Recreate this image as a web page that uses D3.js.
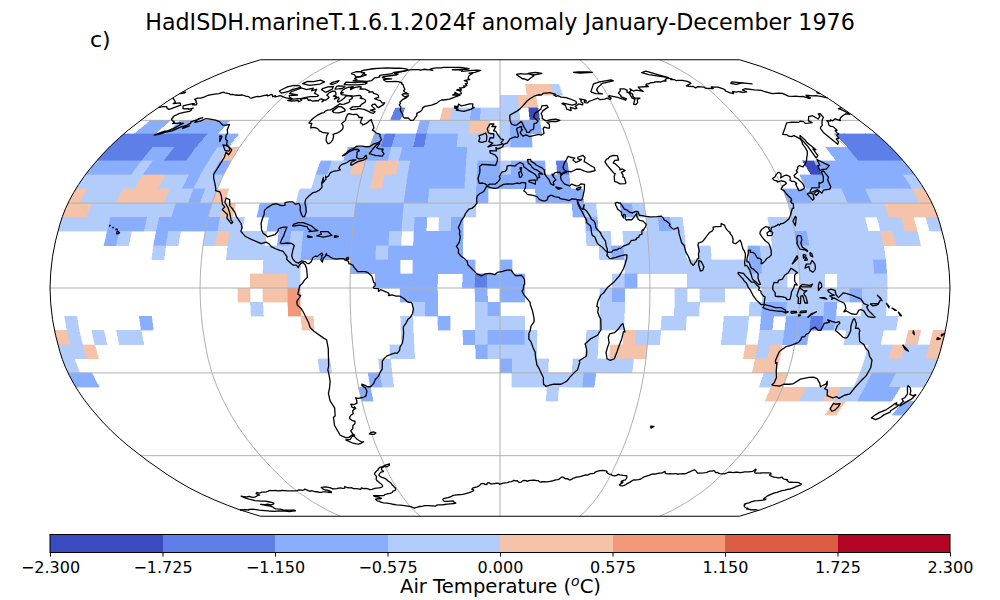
<!DOCTYPE html>
<html><head><meta charset="utf-8">
<script src="https://cdn.jsdelivr.net/npm/d3@7"></script>
<style>html,body{margin:0;padding:0;background:#fff}svg{display:block}text{font-family:"DejaVu Sans",sans-serif;fill:#000}</style>
</head><body><svg id="c" width="1000" height="600"></svg>
<script>
// ---------- labels ----------
const titleText = "HadISDH.marineT.1.6.1.2024f anomaly January-December 1976";
const panelLabel = "c)";
// ---------- colour bins ----------
const binEdges = [-2.3,-1.725,-1.15,-0.575,0,0.575,1.15,1.725,2.3];
const binColors = ["#3b4cc0","#5f7fe8","#8aaefe","#b2cdfb","#f5c2aa","#f4987a","#dc5d42","#b40426"];
// estimated bin values for the cells
const A=-2.0,B=-1.4,C=-0.85,D=-0.3,E=0.3,F=0.85;
// ---------- grid cells: south edge of each 5 degree band, and its runs [lonW, lonE, anomaly] ----------
const bandSouth = [70,65,60,55,50,45,40,35,30,25,20,15,10,5,0,-5,-10,-15,-20,-25,-30,-35,-40,-45];
const bandRuns = [
[[15,30,E],[30,35,D]],
[[0,10,D],[10,20,E]],
[[-55,-50,B],[-30,-25,E],[-25,-15,D],[-15,-10,C],[-10,10,D],[15,20,A]],
[[-175,-165,C],[-160,-135,C],[-40,-35,C],[-35,-15,D],[-15,-5,E],[0,5,D],[5,20,C]],
[[-180,-140,B],[-140,-125,C],[-60,-55,C],[-55,-50,B],[-50,-40,C],[-40,-35,B],[-35,-20,C],[-20,5,D],[5,15,C],[160,180,B]],
[[-180,-160,B],[-160,-150,C],[-150,-140,B],[-140,-130,C],[-130,-125,D],[-125,-120,E],[-70,-50,C],[-50,-45,D],[-45,-15,C],[-15,0,D],[150,160,C],[160,180,B]],
[[-180,-160,C],[-160,-155,D],[-155,-130,C],[-130,-125,D],[-125,-120,C],[-80,-75,C],[-75,-65,D],[-65,-60,E],[-60,-55,D],[-55,-45,E],[-45,-40,D],[-40,-15,C],[-15,-10,D],[-10,0,C],[0,5,D],[5,20,C],[25,30,B],[135,140,A],[140,180,C]],
[[-180,-155,D],[-155,-145,E],[-145,-135,D],[-135,-130,C],[-130,-120,D],[-80,-55,D],[-55,-50,E],[-50,-40,D],[-40,-15,C],[-15,-10,D],[-10,30,C],[130,175,C],[175,180,D]],
[[-180,-175,E],[-175,-160,D],[-160,-140,E],[-140,-130,D],[-130,-125,C],[-125,-120,D],[-120,-115,E],[-85,-40,D],[-40,-30,C],[-30,-10,D],[-10,-5,C],[15,35,C],[120,130,C],[130,145,D],[145,155,C],[155,175,D],[175,180,E]],
[[-180,-170,E],[-170,-135,D],[-135,-120,C],[-120,-115,D],[-115,-110,E],[-100,-80,C],[-80,-60,D],[-60,-40,C],[-40,-10,D],[30,35,C],[35,40,D],[50,55,C],[55,60,D],[120,160,D],[160,180,E]],
[[-180,-160,D],[-160,-145,C],[-145,-140,D],[-140,-115,C],[-115,-105,D],[-95,-40,C],[-40,-35,D],[-35,-30,C],[-25,-20,D],[-20,-15,C],[35,40,C],[60,65,D],[65,70,C],[70,75,D],[110,150,D],[155,165,D],[165,170,E],[175,180,D]],
[[-160,-155,C],[-155,-150,D],[-140,-135,C],[-135,-130,D],[-120,-115,D],[-115,-110,E],[-110,-95,D],[-90,-85,C],[-85,-80,D],[-80,-45,C],[-45,-40,D],[-35,-15,C],[35,45,D],[50,75,D],[110,120,D],[120,125,C],[125,155,D],[155,160,E],[160,170,D]],
[[-140,-135,D],[-110,-80,D],[-80,-50,C],[-50,-45,D],[-45,-15,C],[40,45,D],[45,50,C],[50,75,D],[80,85,D],[100,105,C],[105,155,D]],
[[-95,-80,D],[-60,-40,C],[-35,-10,C],[0,5,C],[50,100,D],[100,105,C],[105,150,D],[150,155,C]],
[[-100,-85,E],[-85,-80,D],[-50,-25,C],[-15,-10,C],[-10,-5,B],[-5,10,C],[45,50,D],[50,55,C],[75,115,D],[120,130,D],[135,155,D]],
[[-105,-100,E],[-95,-85,E],[-85,-80,F],[-40,-25,C],[-10,-5,C],[0,10,C],[40,45,D],[45,50,C],[70,75,D],[80,90,D],[105,140,D],[140,145,C],[145,155,D]],
[[-100,-95,D],[-85,-80,F],[-35,-30,D],[-30,-25,C],[-10,-5,D],[-5,0,C],[40,50,D],[70,80,D],[100,105,D],[105,115,C],[115,130,D],[130,135,C],[145,155,D]],
[[-175,-170,D],[-145,-140,C],[-80,-75,E],[-40,-35,D],[-25,-20,C],[-10,10,D],[40,50,D],[65,75,D],[90,100,D],[105,110,C],[115,125,C],[125,130,B],[130,135,C],[135,160,D]],
[[-180,-175,E],[-175,-170,D],[-165,-160,D],[-155,-145,D],[-40,-35,D],[-15,-10,C],[-10,-5,D],[-5,10,C],[10,15,D],[35,40,D],[50,55,E],[55,65,D],[90,100,D],[105,115,D],[115,125,C],[140,155,D],[165,170,E],[175,180,E]],
[[-180,-170,D],[-170,-165,E],[-45,-35,D],[-10,-5,C],[-5,15,D],[35,40,D],[45,60,E],[100,105,E],[105,110,D],[110,115,E],[150,160,D],[160,165,E],[165,175,D],[175,180,E]],
[[-180,-175,D],[-75,-70,D],[-50,-45,D],[0,5,C],[5,20,D],[30,55,D],[105,115,E],[150,180,D]],
[[-180,-170,C],[-55,-50,C],[-50,-45,D],[5,35,D],[35,40,C],[110,115,D],[115,120,E],[150,155,D],[155,165,C],[165,180,D]],
[[-60,-55,C],[20,25,D],[115,130,E],[130,140,D],[140,145,E],[145,155,D],[155,170,C]],
[[145,150,E],[175,180,C]]
];
// ---------- coastlines [lon,lat] ----------
const americas = [[-156.6,71.4],[-155.1,71.1],[-152.3,70.8],[-150.7,70.4],[-149.7,70.5],[-147.6,70.2],[-145.7,70.1],[-143.6,70.2],[-141,69.7],[-139.1,69.5],[-137.5,69],[-136.5,68.9],[-135.6,69.3],[-134.4,69.6],[-132.9,69.5],[-131.4,69.9],[-129.8,70.2],[-129.1,69.8],[-128.4,70],[-128.1,70.5],[-127.4,70.4],[-125.8,69.5],[-125,70],[-124.4,69.4],[-123.1,69.6],[-122.7,69.9],[-121.5,69.8],[-119.9,69.4],[-117.6,69],[-116.2,68.8],[-115.2,68.9],[-113.9,68.4],[-115.3,67.9],[-113.5,67.7],[-110.8,67.8],[-109.9,68],[-108.9,67.4],[-107.8,67.9],[-108.8,68.3],[-108.2,68.7],[-106.9,68.7],[-106.2,69],[-105.3,68.6],[-104.3,68],[-103.2,68.1],[-101.5,67.6],[-99.9,67.8],[-98.4,67.8],[-98.6,68.4],[-97.7,68.6],[-96.1,68.2],[-96.1,67.3],[-95.5,68.1],[-94.7,68.1],[-94.2,69.1],[-95.3,69.7],[-96.5,70.1],[-96.4,71.2],[-95.2,71.9],[-93.9,71.8],[-92.9,71.3],[-91.5,70.2],[-92.4,69.7],[-90.5,69.5],[-90.6,68.5],[-89.2,69.3],[-88,68.6],[-88.3,67.9],[-87.4,67.2],[-86.3,67.9],[-85.6,68.8],[-85.5,69.9],[-84.1,69.8],[-82.6,69.7],[-81.3,69.2],[-81.2,68.7],[-82,68.1],[-81.3,67.6],[-81.4,67.1],[-83.3,66.4],[-84.7,66.3],[-85.8,66.6],[-86.1,66.1],[-87,65.2],[-87.3,64.8],[-88.5,64.1],[-89.9,64],[-90.7,63.6],[-90.8,63],[-91.9,62.8],[-93.2,62],[-94.2,60.9],[-94.6,60.1],[-94.7,58.9],[-93.2,58.8],[-92.8,57.8],[-92.3,57.1],[-90.9,57.3],[-89,56.9],[-88,56.5],[-87.3,56],[-86.1,55.7],[-85,55.3],[-83.4,55.2],[-82.3,55.1],[-82.4,54.3],[-82.1,53.3],[-81.4,52.2],[-79.9,51.2],[-79.1,51.5],[-78.6,52.6],[-79.1,54.1],[-79.8,54.7],[-78.2,55.1],[-77.1,55.8],[-76.5,56.5],[-76.6,57.2],[-77.3,58.1],[-78.5,58.8],[-77.3,59.9],[-77.8,60.8],[-78.1,62.3],[-77.4,62.6],[-75.7,62.3],[-74.7,62.2],[-73.8,62.4],[-72.9,62.1],[-71.7,61.5],[-71.4,61.1],[-69.6,61.1],[-69.6,60.2],[-69.3,59],[-68.4,58.8],[-67.6,58.2],[-66.2,58.8],[-65.2,59.9],[-64.6,60.3],[-63.8,59.4],[-62.5,58.2],[-61.4,57],[-61.8,56.3],[-60.5,55.8],[-59.6,55.2],[-58,54.9],[-57.3,54.6],[-56.9,53.8],[-56.2,53.3],[-55.8,52.6],[-56.4,51.8],[-58.8,51.1],[-60,50.2],[-61.7,50.1],[-63.9,50.3],[-65.4,50.3],[-66.4,50.2],[-67.2,49.5],[-68.5,49.1],[-69.95,47.7],[-71.1,46.8],[-70.3,47],[-68.7,48.3],[-66.6,49.1],[-65.1,49.2],[-64.2,48.7],[-65.1,48.1],[-64.8,47.6],[-64.5,46.2],[-63.2,45.7],[-61.5,45.9],[-60.5,47],[-59.8,46],[-61,45.3],[-63.3,44.7],[-64.2,44.3],[-65.4,43.5],[-66.1,43.6],[-66.2,44.5],[-64.4,45.3],[-66,45.3],[-67.1,45.1],[-68,44.4],[-69.1,44],[-70.1,43.7],[-70.7,43.1],[-70.8,42.3],[-70,41.8],[-71.1,41.5],[-72.9,41.2],[-74,40.7],[-74.2,39.7],[-75.2,38.9],[-75.5,39.5],[-75,38.5],[-75.9,37.2],[-76.3,39.1],[-76.3,37],[-75.7,35.6],[-76.5,34.6],[-77.6,34],[-78.9,33.7],[-80.3,32.5],[-81.3,31.4],[-81.3,30],[-80.5,28.5],[-80,26.9],[-80.4,25.2],[-81.2,25.2],[-81.7,25.9],[-82.7,27.5],[-82.8,28.6],[-83.7,29.9],[-85.1,29.6],[-86.4,30.4],[-88,30.4],[-89.6,30.2],[-89.4,29.2],[-90.9,29.1],[-93.2,29.8],[-94.7,29.5],[-96.6,28.3],[-97.4,27.4],[-97.2,25.9],[-97.5,24.9],[-97.8,22.9],[-97.2,20.6],[-96.3,19.3],[-95,18.6],[-94.4,18.1],[-92.8,18.5],[-91.4,18.9],[-90.5,19.9],[-90.3,21],[-88.5,21.5],[-87,21.5],[-87.6,19.6],[-87.9,18.3],[-88.3,17.6],[-88.9,15.9],[-88.2,15.7],[-86,15.9],[-84.4,15.8],[-83.1,15],[-83.5,13.6],[-83.8,11.4],[-83.4,10.4],[-82.2,9.2],[-81,8.8],[-79.6,9.6],[-78,9.2],[-77.4,8.7],[-76.8,8.6],[-75.7,9.4],[-75.3,10.7],[-74.2,11.3],[-73.4,11.2],[-71.8,12.4],[-71.3,11.8],[-71.9,11.4],[-71.6,10.9],[-72,9.9],[-71.3,9.1],[-71.1,10.3],[-70.2,11.4],[-69.9,12.2],[-69.6,11.5],[-68.9,11.4],[-68.2,10.9],[-67.3,10.5],[-65.7,10.2],[-64.3,10.4],[-62.7,10.4],[-62.4,9.9],[-60.8,9.4],[-60.7,8.6],[-59.8,8.4],[-59,8],[-58.5,7.3],[-57.5,6.3],[-57.1,5.8],[-55.9,5.8],[-54,5.8],[-52.9,5.4],[-51.8,4.6],[-51.3,4.2],[-50.5,1.9],[-50,1.7],[-50,0.8],[-50.7,0.2],[-50.4,-0.1],[-48.6,-0.2],[-48.6,-1.2],[-47.8,-0.6],[-46.6,-1],[-44.9,-1.6],[-44.4,-2.1],[-44.6,-2.7],[-43.4,-2.4],[-41.5,-2.9],[-40,-2.9],[-38.5,-3.7],[-37.2,-4.8],[-36.5,-5.1],[-35.6,-5.1],[-35.2,-5.5],[-34.9,-6.7],[-34.7,-7.3],[-35.1,-9],[-36,-10.3],[-37,-11],[-37.7,-12.2],[-38.4,-13],[-39,-13.8],[-39,-16],[-39.3,-17.9],[-39.8,-19.6],[-40.8,-20.9],[-41,-22],[-42,-23],[-43.1,-23],[-44.6,-23.4],[-46.5,-24.1],[-47.6,-24.9],[-48.5,-25.9],[-48.7,-27.5],[-48.9,-28.7],[-50,-29.9],[-50.7,-31],[-51.6,-31.8],[-52.3,-32.2],[-53.4,-33.8],[-54.9,-34.9],[-56.2,-34.9],[-57.1,-34.4],[-58.4,-34],[-58.5,-34.4],[-57.2,-35.3],[-56.8,-36.4],[-57.7,-38.2],[-59.2,-38.7],[-61.2,-39],[-62.3,-38.8],[-62.1,-39.8],[-62.3,-40.7],[-63.8,-41.2],[-65.1,-41.1],[-65,-42.1],[-64.3,-42.4],[-63.8,-42],[-63.5,-42.6],[-64.4,-42.9],[-65.2,-43.5],[-65.3,-44.5],[-66.5,-45],[-67.3,-45.6],[-67.6,-46.3],[-66.6,-47],[-65.6,-47.2],[-66,-48.1],[-67.2,-48.7],[-67.8,-49.9],[-69.1,-50.7],[-68.8,-51.8],[-68.1,-52.3],[-69.5,-52.3],[-71,-53],[-72.6,-53.3],[-74.9,-52.3],[-75.6,-48.7],[-74.7,-45.8],[-73.7,-45.3],[-72.7,-42.4],[-73.7,-39.9],[-73.5,-37.2],[-72.5,-35.5],[-71.5,-33],[-71.4,-30.1],[-71.5,-28.9],[-70.9,-27.6],[-70.1,-21.4],[-70.4,-18.3],[-71.4,-17.8],[-75.2,-15.3],[-76.6,-14],[-77.1,-12.2],[-79,-8.4],[-79.8,-7.2],[-81.2,-6.1],[-81.4,-4.7],[-80.3,-3.4],[-79.8,-2.7],[-80.9,-2.2],[-80.1,0.8],[-79,1.7],[-78.4,2.6],[-77.1,3.8],[-77.5,6.7],[-78.2,8.3],[-78.4,8.4],[-79.1,9],[-79.6,8.9],[-80.5,8.1],[-80.9,7.2],[-81.7,8.1],[-82.9,8.1],[-83.5,8.4],[-85.7,10.1],[-85.7,11.1],[-87.5,13],[-88.5,13.2],[-90.1,13.7],[-92.2,14.5],[-93.4,15.6],[-94.7,16.2],[-96.6,15.7],[-100.8,17.2],[-103.5,18.3],[-105.5,20],[-105.3,21.4],[-106,22.8],[-108.4,25.2],[-109.4,26.7],[-110.7,27.9],[-112.2,29],[-113.1,31.2],[-114.8,31.8],[-114.7,30.2],[-112.8,28.4],[-111.6,26.7],[-110.3,24],[-109.4,23.2],[-110,22.8],[-112.2,24.7],[-112.3,26],[-115,27.7],[-114.2,28.6],[-115.5,29.6],[-117.1,32.5],[-118.4,34],[-120.4,34.4],[-120.7,35.2],[-122.5,37.6],[-123.7,39],[-124.4,40.3],[-124.1,43],[-124,46.3],[-124.7,48.2],[-122.8,47.2],[-122.6,48],[-122.8,49],[-124.9,50],[-127,51],[-127.8,52.3],[-129.1,52.8],[-130.5,54.3],[-130.5,55],[-132.2,56.4],[-133.5,58.4],[-135,58.2],[-136.6,58.2],[-139.9,59.5],[-142.6,60.1],[-145.9,60.5],[-148.2,60.7],[-149.7,59.7],[-151.7,59.2],[-151.9,60.7],[-150.3,61],[-152.6,60],[-154,59.4],[-153.3,58.9],[-154.2,58.1],[-156.3,57.4],[-158.4,56],[-160.3,55.6],[-163.1,54.7],[-164.8,54.4],[-163,55.3],[-161.8,55.9],[-160.6,56],[-158.7,57],[-157.7,58.1],[-157,58.9],[-158.2,58.6],[-158.5,59],[-159.7,58.9],[-162,58.7],[-162,59.3],[-164,59.9],[-165.3,60.5],[-165.4,61.1],[-166.1,61.5],[-164.9,62.6],[-163.2,63.1],[-161,63.5],[-160.8,64],[-161.5,64.4],[-161.2,64.8],[-162.8,64.3],[-163.5,64.6],[-165.5,64.5],[-166.4,64.7],[-168.1,65.7],[-166.7,66.1],[-164.5,66.6],[-163.7,66.6],[-163.8,66.1],[-161.7,66.1],[-162.5,66.7],[-163.7,67.1],[-164.4,67.6],[-166.8,68.4],[-166.2,68.9],[-164.4,68.9],[-163.2,69.4],[-162.9,69.9],[-161.9,70.3],[-160,70.6],[-158,70.8],[-156.6,71.4]];
const greenland = [[-46.8,82.6],[-43.4,83.2],[-39.9,83.2],[-38.6,83.5],[-35.1,83.6],[-27.1,83.5],[-20.8,82.7],[-22.7,82.3],[-26.5,82.3],[-31.9,82.2],[-31.4,82],[-27.9,82.1],[-25,81.8],[-25.2,81.2],[-20,81.6],[-15.8,81.9],[-12.8,81.7],[-16.3,80.6],[-20,80.2],[-17.7,80.1],[-18.9,79.4],[-19.7,78.8],[-19.7,77.6],[-18.5,77],[-20,76.9],[-21.7,76.6],[-19.8,76.1],[-19.6,75.2],[-20.7,75.2],[-19.4,74.3],[-21.6,74.2],[-20.4,73.8],[-20.8,73.5],[-22.2,73.3],[-23.6,73.3],[-22.3,72.6],[-22.3,72.2],[-24.3,72.6],[-24.8,72.3],[-23.4,72.1],[-22.1,71.5],[-21.8,70.7],[-23.5,70.5],[-25.5,71.4],[-25.2,70.8],[-26.4,70.2],[-23.7,70.2],[-22.3,70.1],[-25,69.3],[-27.7,68.5],[-30.7,68.1],[-31.8,68.1],[-32.8,67.7],[-34.2,66.7],[-36.4,66],[-39.8,65.5],[-40.7,64.8],[-40.7,64.1],[-41.2,63.5],[-42.8,62.7],[-42.4,61.9],[-43.4,60.1],[-44.8,60],[-46.3,60.9],[-48.3,60.9],[-49.2,61.4],[-49.9,62.4],[-51.6,63.6],[-52.1,64.3],[-52.3,65.2],[-53.7,66.1],[-53.3,66.8],[-54,67.2],[-53,68.4],[-51.5,69.1],[-50.9,69.9],[-52.6,69.4],[-54.7,70.3],[-54.4,70.8],[-51.4,70.6],[-53.1,71.2],[-54,71.5],[-55,72],[-54.7,72.6],[-55.3,73.1],[-56.1,73.6],[-57.3,74.7],[-58.6,75.1],[-58.6,75.5],[-61.3,76.1],[-63.4,76.2],[-66,76.1],[-68.5,76.1],[-69.7,76.4],[-71.4,77],[-68.8,77.3],[-66.8,77.4],[-71,77.6],[-73.3,78],[-73.2,78.4],[-69.4,78.9],[-65.7,79.4],[-65.3,79.8],[-68,80.1],[-67.2,80.5],[-63.7,81.2],[-60.3,82],[-57.2,82.2],[-54.1,82.2],[-53,81.9],[-50.4,82.4],[-48,82.1],[-46.6,82],[-44.5,81.7],[-46.9,82.2],[-46.8,82.6]];
const arcticCanada = [
[[-79.8,72.8],[-77.8,72.75],[-75.6,72.2],[-74.2,71.8],[-74.1,71.3],[-72.2,71.6],[-71.2,70.9],[-68.8,70.5],[-67.9,70.1],[-66.9,69.2],[-68.8,68.7],[-66.4,68.1],[-64.9,67.8],[-63.4,66.9],[-61.9,66.9],[-62.2,66.2],[-63.9,65],[-65.1,65.4],[-66.7,66.4],[-68,66.3],[-68.1,65.7],[-65.3,64.4],[-67.5,64],[-64.7,63.4],[-65,62.7],[-66.3,62.9],[-68.8,63.7],[-71,64.3],[-74.8,64.7],[-74.8,64.4],[-77.7,64.2],[-78.6,64.6],[-77.9,65.3],[-73.9,65.5],[-74.3,65.8],[-73.9,66.3],[-72.7,67.3],[-72.9,67.7],[-73.3,68.1],[-74.8,68.6],[-76.9,68.9],[-76.2,69.1],[-77.3,69.8],[-78.2,70],[-79.5,69.9],[-81.3,69.7],[-84.9,70],[-88.7,70.4],[-89.5,70.8],[-88.5,71.2],[-89.9,71.2],[-90.2,72.2],[-89.4,73.1],[-88.4,73.5],[-85.8,73.8],[-86.6,73.2],[-85.8,72.5],[-84.9,73.3],[-82.3,73.8],[-81,73.7],[-80.6,72.7],[-79.8,72.8]],
[[-105.4,72.7],[-104.5,71],[-102.8,70.5],[-101,70],[-101.1,69.6],[-102.7,69.5],[-105,69.5],[-106.9,69.2],[-109,68.8],[-113.3,68.5],[-116,69.2],[-117.3,70],[-113,70.2],[-118.4,70.9],[-118.4,71.6],[-115.2,73.3],[-114.2,73.1],[-111,72.5],[-108.2,73.2],[-107.5,72],[-105.4,72.7]],
[[-125.9,71.9],[-124.8,73],[-124,73.7],[-121.5,74.4],[-117.6,74.2],[-116,73.5],[-119.2,72.5],[-120.5,71.6],[-123.1,71],[-125.9,71.9]],
[[-89.5,76.5],[-86,76.4],[-80.6,76.2],[-78.1,76.6],[-77.9,77.9],[-76,78.1],[-75.4,78.5],[-76.3,79],[-75.5,79.2],[-70,79.8],[-69,80.6],[-65.7,81],[-61.9,81.6],[-61.9,82.4],[-64.3,82.8],[-68,83.1],[-71.4,83],[-77,83.2],[-82.4,82.9],[-85.5,82.7],[-91.4,81.6],[-90,80.5],[-87.8,80.3],[-87,79.7],[-85.1,79.3],[-87,78.5],[-88,78.4],[-89.8,78.2],[-90,77.6],[-88,77.2],[-89.5,76.5]],
[[-80.3,75],[-84,74.6],[-90,74.6],[-92.4,74.9],[-92.8,75.9],[-89.8,75.8],[-87,75.7],[-83.2,76],[-79.5,75.5],[-80.3,75]],
[[-90.5,73.9],[-92.4,74.1],[-94.9,74.2],[-95.6,73.9],[-95,72.7],[-93.2,72.8],[-91.2,73],[-90.5,73.9]],
[[-98.5,71.3],[-102.5,72.5],[-102.5,73],[-100.4,73.7],[-97.5,73.9],[-96.6,72.7],[-98.5,71.3]],
[[-116.3,76.2],[-117.7,75.2],[-112.2,74.4],[-106.9,75],[-105.9,76],[-109.6,76.8],[-112.6,76.1],[-116.3,76.2]],
[[-96,80],[-94.3,81],[-91.7,81.1],[-87.7,80.4],[-87.5,78.5],[-90,78.2],[-93,79.5],[-96,80]],
[[-98.9,74.9],[-100.9,75],[-100.9,75.6],[-98,76.6],[-97.7,75.7],[-98.9,74.9]],
[[-80.3,63.7],[-83,62.9],[-85.5,63],[-87,63.6],[-85.5,65.4],[-84,65.4],[-81.5,64.5],[-80.3,63.7]],
[[-56.1,50.7],[-56.8,49.8],[-55.4,49.3],[-53.5,49.2],[-53.8,48.5],[-52.6,47.5],[-53.1,46.7],[-54.2,46.8],[-55.3,46.9],[-56,46.9],[-59.3,47.6],[-58.4,49.1],[-57.4,50.7],[-56.1,51.6],[-56.1,50.7]],
[[-123.5,48.5],[-125.7,48.8],[-128.4,50.8],[-126.7,50.5],[-125,50],[-123.9,49.2],[-123.5,48.5]],
[[-132,54],[-131,52],[-133.2,54.1],[-132,54]],
[[-154.7,57.4],[-152.6,57.9],[-154.5,56.8],[-154.7,57.4]]
];
const caribbean = [
[[-84.9,21.9],[-84.3,22.6],[-82.5,23.1],[-80.6,23.1],[-77.1,22],[-75.2,20.7],[-74.2,20.3],[-77.8,19.9],[-77.1,20.4],[-78.1,20.7],[-78.7,21.6],[-81.8,22.2],[-83.8,22],[-84.9,21.9]],
[[-73.2,19.9],[-70,19.9],[-68.3,18.6],[-71.7,18],[-74.4,18.4],[-72.6,19],[-73.2,19.9]],
[[-78.3,18.5],[-76.2,18],[-77.8,17.9],[-78.3,18.5]],
[[-67.2,18.5],[-65.6,18.2],[-67.2,17.9],[-67.2,18.5]],
[[-61.7,10.7],[-61,10.8],[-61,10.1],[-61.9,10.1],[-61.7,10.7]]
];
const hawaii = [[[-155.5,19.1],[-154.8,19.5],[-155.9,20.2],[-155.9,19.1],[-155.5,19.1]],[[-156.6,20.9],[-156,20.7],[-156.6,20.6],[-156.6,20.9]],[[-158.2,21.5],[-157.7,21.3],[-158.1,21.3],[-158.2,21.5]],[[-159.7,22.1],[-159.3,22.1],[-159.5,21.9],[-159.7,22.1]]];
const tierra = [[-68.6,-52.6],[-68.3,-53.1],[-67.7,-53.9],[-66,-54.9],[-65.1,-54.7],[-66.5,-55.2],[-68.1,-55.6],[-69.2,-55.5],[-71,-55.1],[-72.3,-54.5],[-73.3,-54],[-71,-53.8],[-69.4,-52.6],[-68.6,-52.6]];
const falklands = [[-61.2,-51.8],[-59.9,-51.3],[-58.5,-51.1],[-57.8,-51.5],[-59,-52],[-60,-52],[-61.2,-51.8]];
const eurasia = [[-5.4,36.1],[-6.5,36.9],[-7.5,37.1],[-8.9,37],[-9.5,38.7],[-8.8,40.8],[-8.8,41.9],[-9,43],[-8,43.7],[-5.4,43.6],[-1.9,43.4],[-1.2,45],[-1.1,46],[-2.2,47.1],[-4.5,47.9],[-4.6,48.7],[-3,48.6],[-1.6,48.6],[-1.9,49.8],[-1,49.3],[0.2,49.7],[1.3,50.1],[1.6,51],[3.3,51.4],[4.7,53],[6.1,53.5],[7.1,53.7],[8.1,53.5],[8.8,54],[8.5,55.1],[8.1,56.5],[8.3,57],[10.6,57.7],[10.4,56.6],[10.9,56.5],[9.7,55.5],[10,54.9],[10.9,54],[12.5,54.5],[14.1,53.8],[16.4,54.3],[18.6,54.7],[19.7,54.4],[21.1,55],[21,56.8],[21.6,57.4],[23.3,57],[24.1,57],[24.4,58.4],[23.4,59.2],[25.9,59.6],[28,59.5],[30,60],[28.1,60.5],[26.3,60.4],[24.5,60.1],[22.9,59.8],[21.3,60.7],[21.5,61.7],[21.1,62.6],[22.4,63.8],[24.7,64.9],[25.4,65.1],[24.9,65.9],[22.2,65.7],[21.4,64.4],[19.8,63.6],[17.8,62.7],[17.1,61.3],[17.8,60.6],[19,59.7],[17.9,58.9],[16.8,58.7],[16.4,56.7],[14.7,56.2],[14.1,55.4],[12.9,55.4],[12.6,56.3],[11.8,57.4],[10.9,59.3],[10.5,59.5],[8.4,58.3],[7,58.1],[5.7,58.6],[5,59.9],[5,62],[8.6,63.5],[10.5,64.5],[12.4,65.9],[14.8,67.8],[16.4,68.6],[19.2,69.8],[21.4,70.3],[23,70.2],[24.5,71],[26.4,71],[28.2,71.2],[31.3,70.5],[30,70.2],[31.1,69.6],[32.1,69.9],[33.8,69.3],[36.5,69.1],[40.3,67.9],[41.1,67.5],[41.1,66.8],[40,66.3],[38.4,66],[33.9,66.8],[33.2,66.6],[34.8,65.9],[34.9,64.4],[37,63.8],[37.1,65.1],[39.6,64.5],[40.4,64.8],[39.8,65.5],[42.1,66.5],[44,66.1],[44.5,66.8],[43.7,67.4],[44.2,68],[43.5,68.6],[46.3,68.2],[46.8,67.7],[45.6,67.6],[45.6,67],[47,66.9],[48.1,67.5],[50.2,68],[53.7,68.9],[54.5,68.3],[57.3,68.5],[58.8,68.9],[60,68.3],[61.1,68.9],[60,69.5],[60.6,69.9],[64.9,69.2],[68.5,68.1],[69.2,68.6],[66.9,69.5],[67.3,69.9],[66.7,71],[68.5,71.9],[69.2,72.8],[71.8,72.8],[72.8,72.2],[71.8,71.4],[72.8,71],[72.6,69],[73.7,68.4],[71.4,66.4],[72.4,66.2],[74,67],[74.9,68.3],[76.9,68.9],[74,69],[73.6,69.6],[74.4,70.6],[73.1,71.4],[74.9,72.1],[75,72.9],[76,71.9],[78,72.3],[81.5,71.8],[80.6,72.6],[80.5,73.6],[86.8,73.9],[86,74.5],[87.2,75.1],[88.3,75.1],[90.3,75.6],[92.9,75.8],[93.2,76],[95.9,76.1],[96.7,75.9],[98.9,76.4],[100.8,76.4],[101,76.9],[102,77.3],[104.4,77.7],[106.1,77.4],[104.7,77.1],[107,77],[107.2,76.5],[108.2,76.7],[111.1,76.7],[113.3,76.2],[114.1,75.8],[113.9,75.3],[109.4,74.2],[110.6,74],[112.1,73.8],[113,74],[113.5,73.3],[115.6,73.8],[118.8,73.6],[119,73.1],[123.2,73],[123.3,73.7],[125.4,73.6],[127,73.6],[128.6,73],[129.1,72.4],[128.5,72],[129.7,71.2],[131.3,70.8],[132.3,71.8],[133.9,71.4],[135.6,71.7],[137.5,71.3],[139.9,71.5],[139.1,72.4],[141.4,72.9],[146,72.4],[149.5,72.2],[150.4,71.6],[153,70.8],[157,71],[159,70.9],[160,69.7],[162.3,69.6],[164.1,69.7],[165.9,69.5],[167.8,69.6],[169.6,68.7],[170.8,69],[170,69.7],[170.5,70.1],[173.6,69.8],[175.7,69.9],[178.6,69.4],[180,68.96]];
const chukotkaWest = [[-180,68.96],[-177.6,68.2],[-174.9,67.2],[-175,66.6],[-171.9,66.9],[-169.9,66],[-172.5,64.5],[-173,64.3],[-175,64.8],[-176.2,65.4],[-178.4,65.4],[-180,65]];
const asia = [[180,65],[177.4,64.6],[178.3,64.1],[178.9,63.25],[179.2,62.3],[177.4,62.5],[174.6,61.8],[172.2,61],[170.7,60.3],[170.3,59.9],[168.9,60.6],[166.3,59.8],[165.8,60.2],[164.9,59.7],[163.5,59.9],[163.2,59.2],[162,58.2],[162,57.8],[163.2,57.6],[163.1,56.2],[162.1,56.1],[161.7,55.3],[162.1,54.9],[160.4,54.3],[160,53.2],[158.5,53],[158.2,51.9],[156.8,51],[155.4,55.4],[155.9,56.8],[156.8,57.4],[158.4,58],[160.2,59.3],[161.9,60.3],[163.7,61.1],[164.5,62.6],[163.3,62.5],[162.7,61.6],[160.1,60.5],[159.3,61.8],[156.7,61.4],[154.2,59.8],[155,59.1],[152.8,58.9],[151.3,58.8],[151.3,59.5],[149.8,59.7],[148.5,59.2],[145.5,59.3],[142.2,59],[139,57.1],[135.1,54.7],[136.7,54.6],[137.2,54],[138.2,53.8],[139.9,54.2],[141.4,53.1],[141.4,52.2],[140.6,51.2],[140.5,50],[140.1,48.4],[139,47.2],[138,46.3],[136.9,45.1],[135.5,44],[133.5,42.8],[132.3,43.3],[130.9,42.6],[130.8,42.2],[129.7,41.6],[129.7,40.9],[127.5,39.8],[127.4,39.2],[128.3,38.6],[129.2,37.4],[129.5,36.8],[129.5,35.6],[129,35.1],[127.4,34.5],[126.5,34.4],[126.4,36.7],[126.9,36.9],[126.2,37.7],[125.3,37.7],[124.7,38.1],[125.2,38.7],[125.4,39.4],[124.3,39.9],[122.9,39.6],[121.1,38.9],[121.6,39.4],[122.2,40.4],[121.6,40.9],[120.8,40.6],[119.6,39.9],[119,39.3],[117.5,38.7],[118,38],[119,37.9],[118.9,37.4],[120.8,37.9],[122.4,37.5],[122.5,36.9],[120.6,36.1],[119.2,34.9],[120.2,34.4],[120.6,33.4],[121.2,32.5],[121.9,31.7],[121.9,30.9],[121.3,30.7],[121.5,30.1],[122.1,29.8],[121.7,28.2],[121.1,28.1],[119.6,25.7],[118.7,24.5],[117.3,23.6],[115.9,22.8],[114.8,22.7],[114.2,22.2],[113.8,22.5],[113.2,22.1],[111.8,21.6],[110.8,21.4],[110.4,20.3],[109.9,20.3],[109.6,21],[109.9,21.4],[108.5,21.7],[106.7,20.7],[105.9,19.8],[105.7,19.1],[106.4,18],[107.4,16.7],[108.3,16.1],[108.9,15.3],[109.3,13.4],[109.2,11.7],[108.4,11],[107.2,10.4],[106.4,9.5],[105.2,8.6],[104.8,8.6],[105.1,9.9],[104.3,10.5],[103.5,10.6],[103.1,11.2],[102.6,12.2],[101.7,12.6],[100.8,12.6],[101,13.4],[100.1,13.4],[100,12.3],[99.5,11],[99.2,10],[99.2,9.2],[99.9,9.2],[100.3,8.3],[100.5,7.4],[101,6.9],[101.6,6.7],[102.1,6.2],[103,5.5],[103.4,4.9],[103.3,3.7],[103.5,2.8],[104.2,1.3],[103.5,1.2],[102.6,2],[101.4,2.8],[101,3.3],[100.6,4.8],[100.3,5.6],[100.1,6.5],[99.7,6.8],[99.5,7.3],[99,8],[98.3,7.8],[98.2,9],[98.6,10.7],[98.8,12],[98.5,13.1],[98.1,13.6],[97.8,14.8],[97.6,16.1],[97.2,16.9],[96.5,16.4],[95.4,15.7],[94.8,15.8],[94.2,16],[94.5,17.3],[94.3,18.2],[93.5,19.4],[93.7,19.7],[93.1,19.9],[92.4,20.7],[92.1,21.2],[91.8,22.2],[90.5,22.8],[90.3,21.8],[88.9,21.7],[88.2,21.7],[87,21.5],[87,20.7],[86.5,20.2],[85.1,19.5],[82.2,16.6],[81.7,16.3],[80.8,16],[80.3,15.9],[80,15.1],[80.2,13.8],[80.3,13],[79.9,12.1],[79.9,10.4],[79.3,10.3],[79,9.5],[78.3,8.9],[77.9,8.3],[77.5,8],[76.6,8.9],[76.1,10.3],[75.7,11.3],[74.9,12.7],[74.6,14],[74.4,15],[73.5,16],[73.1,17.9],[72.8,19.2],[72.8,20.4],[72.6,21.4],[71.2,20.8],[70.5,20.9],[69.2,22.1],[69.6,22.5],[69.3,22.8],[68.2,23.7],[67.4,23.9],[67.1,24.7],[66.4,25.4],[64.5,25.2],[61.5,25.1],[59.6,25.4],[58.5,25.6],[57.4,25.7],[57,27],[56.5,27.1],[55.7,27],[54.7,26.5],[53.5,26.8],[52.5,27.6],[51.5,27.9],[50.9,28.8],[50.1,30.1],[49.6,30],[48.9,30.3],[48,30],[48.1,29.3],[48.8,27.7],[49.3,27.5],[50.2,26.7],[50.1,25.9],[50.5,25.3],[50.8,24.8],[50.7,25.5],[51,26],[51.6,25.8],[51.6,25],[51.4,24.6],[51.8,24],[52.6,24.2],[54,24.1],[55,24.9],[55.4,25.4],[56.1,26.1],[56.4,26.4],[56.4,25.9],[56.3,25.3],[56.8,24.2],[57.4,23.9],[58.7,23.6],[59.8,22.5],[59.3,21.4],[58.9,21.1],[58.5,20.4],[58,20.5],[57.8,20.2],[57.7,19],[57.2,18.9],[56.6,18.6],[56.3,17.9],[55.3,17.6],[55.3,17.2],[54.8,17],[53.1,16.7],[52.2,15.6],[49.6,14.7],[48.7,14],[48,14],[47.4,13.6],[45.6,13.3],[45,12.7],[44.5,12.7],[43.5,12.6],[43.2,13.2],[43.3,13.8],[42.9,14.8],[42.8,15.9],[42.7,16.4],[42.6,16.8],[42.3,17.1],[41.8,17.8],[41.2,18.7],[40.9,19.5],[39.1,21.3],[39,22.8],[38.5,23.7],[37.5,24.3],[37.2,25.1],[36.6,26],[36.2,26.6],[35.6,27.4],[34.6,28.1],[35,29.4],[34.3,27.8],[33.6,28],[32.6,29.9],[32.3,31.2],[33.8,31],[34.3,31.2],[35,32.8],[35.7,34.6],[36.1,36.6],[34.7,36.8],[33.5,36.1],[32.5,36.1],[30.6,36.7],[29.7,36.1],[27.6,36.7],[26.3,38.2],[26.2,39.5],[27.3,40.4],[29.1,41],[29.2,41.2],[31.1,41.1],[33.5,42],[35.2,42],[36.9,41.3],[38.3,41],[39.5,41.1],[41.6,41.5],[41.5,42.6],[39.9,43.4],[38.2,44.4],[37.5,44.7],[38.2,46.2],[37.4,47],[35,46.3],[34.9,45.8],[35.5,45.5],[36.5,45.5],[35.2,44.9],[33.7,44.4],[32.6,45.3],[33.6,46],[31.7,46.3],[30.7,46.6],[29.6,45.3],[28.7,44.4],[27.7,42.6],[28,41.9],[29.1,41.2],[28.1,41],[26.4,40.2],[26.1,41],[24.9,40.9],[23.7,40.7],[23.3,40],[22.6,40.3],[22.8,39.7],[24,38.2],[23.5,37.9],[22.8,37.3],[23.1,36.4],[22.5,36.4],[21.7,36.8],[21.1,38.3],[20.2,39.3],[19.4,40.3],[19.4,41.7],[18.4,42.5],[16,43.5],[15.2,44.2],[13.9,44.8],[13.7,45.5],[12.3,45.4],[12.6,44.1],[13.5,43.6],[14,42.8],[15.1,42],[16.2,41.7],[18.2,40.5],[18.5,40.2],[17,40.5],[16.9,40],[17.1,39],[16.2,38.9],[15.9,38],[16.1,39],[15.4,40],[14.1,40.8],[12.3,41.7],[10.5,42.9],[10.2,43.9],[8.9,44.4],[7.4,43.7],[6.5,43.1],[4.6,43.4],[3.1,43.1],[3,41.9],[2.1,41.2],[0.8,41],[-0.3,39.3],[0.1,38.7],[-0.7,37.6],[-2.1,36.7],[-4.4,36.7],[-5.4,36.1]];
const caspian = [[49.1,46.4],[48.6,45.8],[47.7,45.6],[46.7,44.6],[47.5,43.3],[48.6,41.8],[49.6,40.6],[50.1,40.5],[49.4,39.4],[49.2,37.6],[50.1,37.4],[51.3,36.8],[53.7,36.9],[53.9,37.2],[53.7,39],[53.1,39.3],[53.4,40],[52.9,40.9],[54.7,41.5],[53.7,42.1],[52.5,41.8],[52.7,42.4],[51.2,43.9],[50.3,44.3],[51.3,45.2],[53,45.3],[53,46.9],[51.2,47],[49.1,46.4]];
const africa = [[-5.9,35.8],[-6.2,35.1],[-6.9,34.1],[-8.7,33.2],[-9.6,32.5],[-9.8,31.2],[-9.6,30],[-10.4,29.1],[-11.7,28.1],[-12.9,27.9],[-14.2,26.4],[-14.8,25.1],[-15.9,23.7],[-16.3,22.7],[-17,21.4],[-16.3,20],[-16.5,19.1],[-16.1,18.1],[-16.5,16.1],[-17.6,14.7],[-16.7,13.6],[-16.8,12.4],[-15.5,11.1],[-14.7,10.7],[-13.2,9.5],[-12.9,8.2],[-11.4,6.9],[-9.2,5],[-7.7,4.4],[-7.5,4.3],[-5.8,5],[-4,5.2],[-2.1,4.7],[-1.1,5.5],[1.1,5.9],[2.7,6.3],[4.5,6.3],[5.4,5.1],[6.3,4.3],[7.5,4.4],[8.5,4.5],[9.2,3.9],[9.8,3],[9.9,1.4],[9.5,1],[9.3,-0.5],[8.8,-1.1],[9.6,-2.4],[11.1,-4],[12,-5],[12.2,-6],[13,-8],[13.7,-10.7],[13.7,-12],[12.5,-13.5],[12.2,-15],[11.7,-16.1],[11.7,-18],[12.6,-19],[13.4,-20.9],[14.4,-22.7],[14.5,-24],[15,-26.1],[15.2,-27.1],[16.3,-28.6],[18.2,-31.7],[18.2,-32.4],[18.4,-34],[19.6,-34.8],[20.7,-34.4],[22.6,-34],[25.8,-34],[27.5,-33.2],[28.2,-32.8],[29.3,-31.5],[30.9,-29.9],[32.2,-28.9],[32.9,-26.2],[32.6,-25.7],[35.4,-24.1],[35.5,-23],[35.4,-21.8],[34.8,-20],[34.6,-19.8],[36.8,-17.9],[37.5,-17.6],[39.5,-16.7],[40.8,-14.7],[40.5,-10.8],[39.9,-10.1],[39.2,-8.5],[39.5,-6.9],[38.8,-6.5],[39.2,-4.7],[40.3,-2.6],[41.5,-1.7],[43.1,0.3],[45.5,2],[47.7,4.2],[48.9,5.9],[49.5,6.8],[50.1,8.1],[51,10.6],[51.1,11.7],[50.3,11.7],[48.9,11.4],[47.5,11.1],[46.6,10.8],[44.6,10.4],[44,10.5],[43.5,11.1],[43,11.5],[43.3,12.4],[43.1,12.7],[42.4,13.3],[41.2,14.5],[39.8,15.4],[39.3,15.9],[38.5,18],[37.5,18.6],[37.2,19.8],[37.2,21],[36.9,22],[35.5,23.1],[35.5,24],[34.8,25.2],[33.9,27],[33.2,28],[32.4,29.9],[32.3,31.2],[31.6,31.4],[30.1,31.5],[28.9,30.9],[27.5,31.2],[25.2,31.6],[24.9,32],[23.2,32.2],[21.5,32.8],[20.1,32.2],[19.8,31.2],[18.9,30.8],[18,30.8],[16.6,31.2],[15.5,32.3],[13.9,32.7],[11.5,33.1],[10.9,33.8],[10.1,34.3],[10.9,35.7],[10.9,36.4],[11,37.1],[10.2,37.2],[9.5,37.3],[8.4,36.9],[7.3,37.1],[5.3,36.7],[3.2,36.8],[1.5,36.6],[0,35.9],[-1,35.4],[-2.2,35.2],[-3.6,35.4],[-5.2,35.8],[-5.9,35.8]];
const madagascar = [[49.5,-12.5],[50.5,-15.5],[49.9,-15.4],[49.7,-16.5],[49.4,-18],[48.5,-20.5],[47.9,-22.4],[47,-25],[45.4,-25.6],[44,-25],[43.4,-22.8],[43.9,-20.8],[44.4,-19.4],[43.9,-17.4],[44.4,-16.2],[46.3,-15.8],[47.7,-14.6],[48.8,-13.1],[49.5,-12.5]];
const europeIslands = [
[[-24.3,65.6],[-22.2,65.4],[-22.2,66.4],[-20.5,65.7],[-18.7,66],[-16.2,66.5],[-14.5,66.5],[-14.5,65.1],[-13.6,65.1],[-15,64.4],[-18.7,63.5],[-22.8,64],[-21.8,64.4],[-24,64.9],[-22.2,65.1],[-24.3,65.6]],
[[-5.7,50],[-3.4,50.6],[-1,50.7],[1.3,51.1],[0.5,51.6],[1.7,52.7],[0.3,53],[0,53.5],[-1.2,54.7],[-2,55.8],[-3.1,56],[-2,57.7],[-4,57.6],[-3,58.6],[-5,58.6],[-6.2,56.8],[-5.6,55.3],[-4.8,55],[-3,54.9],[-3,53.9],[-3.1,53.4],[-4.6,53.5],[-5.2,52],[-3.4,51.4],[-5.7,50]],
[[-6.2,53.9],[-6.8,55.2],[-8.5,54.6],[-10,54.2],[-9.5,53.2],[-10,52],[-8.4,51.7],[-6.4,52.2],[-6.2,53.9]],
[[15.3,38.2],[12.5,38],[12.4,37.6],[15.1,36.7],[15.3,38.2]],
[[9.2,41.2],[9.7,40],[9.2,39.2],[8.4,39.2],[8.2,40.9],[9.2,41.2]],
[[8.7,42.6],[9.5,42.6],[9.2,41.4],[8.7,42.6]],
[[23.6,35.7],[26.3,35.2],[24.7,34.9],[23.6,35.7]],
[[32.3,35.1],[34.5,35.7],[33.9,34.9],[32.9,34.6],[32.3,35.1]],
[[10.4,79.6],[13.2,80],[16,79.7],[18.5,80],[21.5,78.9],[17,76.7],[14.7,77.5],[13.8,77.4],[10.4,79.6]],
[[18,80.1],[23,80.6],[27,80.1],[22,79.3],[18,80.1]],
[[47.5,80.6],[51,80.9],[58,80.9],[60,80.6],[52,80.3],[47.5,80.6]],
[[51.5,71.5],[53.5,73.3],[55.6,75.1],[60,76],[68,76.9],[68.9,76.5],[61,75.3],[57,73.5],[55.4,72.4],[55.6,71],[57.5,70.7],[53.7,70.8],[51.5,71.5]],
[[99,78.8],[105,78],[101,79.3],[96,81.3],[92,80.5],[95,79.5],[99,78.8]],
[[137.5,75.3],[140,74.8],[145,75.5],[150,75.1],[146,75.4],[140,76],[137.5,75.3]],
[[-180,71.5],[-178,71.4],[-178,71],[-180,70.8]],
[[180,70.8],[178.8,71.1],[180,71.5]]
];
const eastAsiaIslands = [
[[130.9,34],[131.9,33.9],[134.6,34.8],[135.8,33.5],[137,34.6],[139.9,34.9],[140.8,35.8],[141,38.2],[142,39.2],[141.4,41.4],[140.3,41.2],[139.9,39.4],[138.7,37.6],[137,37],[136.7,37.3],[135.7,35.5],[132.6,35.4],[130.9,34]],
[[129.4,33.3],[130.4,33.6],[131.9,33.2],[131.5,31.5],[130.7,31],[130.2,32],[129.4,33.3]],
[[132.4,33.5],[134.2,34.4],[134.7,33.8],[133,32.7],[132.4,33.5]],
[[140,41.5],[141.2,41.9],[143,42],[145.5,43.3],[144.1,44.1],[141.9,45.5],[141.4,43.4],[140.3,43.3],[140,41.5]],
[[142,46],[143.5,46.9],[143.5,49.3],[144.6,49],[143.2,51.8],[143.3,52.7],[142.9,54.3],[141.8,53.3],[142.1,50.5],[142,48],[142,46]],
[[121.8,25],[120.7,22],[120.1,23.6],[121.5,25.3],[121.8,25]],
[[110.3,20],[111,19.7],[110.5,18.6],[108.7,18.5],[108.6,19.4],[109.5,20],[110.3,20]],
[[79.9,9.8],[80.8,9.3],[81.8,7.5],[81.2,6.2],[80.3,6],[79.7,8.2],[79.9,9.8]],
[[120.8,18.5],[122.2,18.5],[122.3,17],[121.7,15.9],[122,14.5],[124,13.2],[123.9,12.9],[122.9,13.5],[121,13.7],[120.7,14.3],[120,15.9],[120.3,16],[120.4,17.5],[120.8,18.5]],
[[125.4,9.8],[126.4,8.4],[126.5,7.2],[126.2,6.3],[125.4,5.6],[124.2,6.2],[123.9,7.6],[122.3,7],[122.9,8.4],[124.6,8.5],[125.4,9.8]],
[[117.2,8.4],[119.5,11.4],[119.7,10.5],[117.2,8.4]],
[[124.8,12.6],[125.5,12.2],[125.8,11],[124.9,11.4],[124.8,12.6]],
[[122,11.9],[123.1,11.6],[122,10.5],[122,11.9]],
[[123.1,11],[123.5,9.9],[122.4,9.8],[123.1,11]]
];
const indonesiaIslands = [
[[95.3,5.5],[97.5,5.2],[98.3,4.3],[100.6,2.1],[101.7,2.1],[103.8,0.1],[103.4,-0.7],[104.4,-1.1],[104.5,-1.8],[105.6,-3],[106.1,-3.1],[105.8,-5.9],[104.7,-5.9],[102.6,-4.2],[101.4,-2.8],[100.1,-0.65],[99.3,0.2],[98.6,1.8],[97.7,2.5],[97.2,3.3],[96.4,4],[95.4,5],[95.3,5.5]],
[[106.1,-5.9],[108.5,-6.4],[110.5,-6.9],[112.6,-6.9],[114.5,-7.8],[114.6,-8.8],[113.5,-8.3],[110.6,-8.1],[108.3,-7.8],[106.5,-7.4],[105.4,-6.9],[106.1,-5.9]],
[[115,-8.2],[115.7,-8.4],[115.1,-8.8],[115,-8.2]],
[[116.7,-8.3],[118.9,-8.3],[119.1,-8.7],[117,-9],[116.7,-8.3]],
[[120.7,-8.2],[122.9,-8.1],[122.8,-8.6],[120.4,-8.8],[120.7,-8.2]],
[[119.9,-9.4],[120.8,-9.6],[119.9,-9.9],[119.9,-9.4]],
[[123.6,-10.4],[125,-9.1],[127,-8.4],[125.1,-9.4],[124,-10.2],[123.6,-10.4]],
[[109.1,0.4],[109.6,2],[111.2,1.9],[111.4,2.7],[113,3.1],[114,4.5],[115.5,5.4],[116.7,7],[117.7,6.4],[119.2,5.4],[118.4,5],[118,4.4],[117.9,3.1],[118,2.3],[118.9,1],[117.9,1.2],[117.5,0.1],[116.6,-1.5],[116.5,-2.5],[116.1,-4],[114.9,-4.1],[114.5,-3.5],[113.3,-3.1],[111.7,-3],[111,-3],[110.2,-2.9],[110.1,-1.6],[109.1,-0.5],[109.1,0.4]],
[[125.1,1.5],[124.4,0.4],[121,0.4],[120,0.6],[120.1,-0.1],[121.5,-1],[122.8,-0.9],[121.5,-1.9],[122.5,-3.2],[123.2,-5.3],[122.2,-5.3],[121.7,-4.2],[121.2,-2.7],[120.4,-2.9],[120.4,-5.5],[119.4,-5.4],[119.5,-3.5],[118.8,-2.8],[119.8,0.2],[120.9,1.3],[123.9,0.9],[125.1,1.5]],
[[127.9,2.2],[128.6,1.5],[128.7,0.3],[128.1,0],[127.4,-0.9],[127.4,1],[127.9,2.2]],
[[127.9,-3.4],[130.8,-3.9],[129.9,-3.4],[127.9,-3.4]],
[[131,-0.8],[132.4,-0.4],[134,-0.8],[134.5,-2.4],[135.5,-3.4],[137.4,-1.7],[139.2,-2.1],[141,-2.6],[144.6,-3.9],[145.8,-5.5],[147.6,-6.1],[147,-6.7],[147.9,-8],[149.3,-9.1],[150.8,-10.3],[149.8,-10.4],[147.9,-10.1],[147.1,-9.5],[146,-8.1],[144.7,-7.6],[143.9,-7.9],[143.3,-9.2],[142.6,-9.3],[141,-9.1],[139.1,-8.1],[138,-8.4],[138.7,-7.3],[138.4,-6.2],[137.9,-5.4],[135.8,-4.5],[133.7,-3.5],[132.8,-4],[133,-3.3],[132,-2.8],[133.8,-2.5],[133,-2.2],[131.8,-1.6],[131,-0.8]],
[[148.3,-5.6],[150.2,-5.5],[151.5,-5.5],[152.3,-4.3],[151.5,-5.8],[150.8,-6.1],[149.3,-6.3],[148.3,-5.6]],
[[150.9,-2.5],[152.3,-3.5],[153,-4.5],[152.6,-4],[151.5,-3],[150.9,-2.5]],
[[154.7,-5.3],[156,-6.5],[155.9,-7],[154.7,-5.3]],
[[157,-7],[159,-7.9],[158.5,-7.9],[157,-7]],
[[159.8,-8.4],[161.3,-9.8],[160.8,-9.8],[159.8,-8.4]],
[[167,-15],[167.8,-16.5],[167.1,-15.9],[167,-15]],
[[164,-20.1],[165.7,-21.3],[167,-22.3],[165.5,-21.7],[164,-20.1]],
[[177.4,-17.5],[178.7,-18],[177.4,-18.2],[177.4,-17.5]],
[[178.5,-16.5],[180,-16.1],[179,-17],[178.5,-16.5]]
];
const australia = [[142.5,-10.7],[143.6,-12.7],[143.5,-14.3],[144.6,-14.2],[145.4,-15],[145.3,-16],[146.2,-18.9],[148.2,-20],[149.3,-21.3],[150.7,-22.4],[151.6,-24.1],[153.1,-25.5],[153.6,-28.1],[153.1,-31],[152,-32.6],[150.7,-35.2],[150,-37.4],[148,-37.9],[146.4,-39],[144.9,-38.4],[143.6,-38.8],[140.6,-38],[139.6,-36.1],[138.1,-35.6],[138.4,-34.4],[138.2,-33.8],[137.7,-32.9],[137.8,-33.9],[135.9,-34.9],[135,-33.7],[133,-32],[131.3,-31.5],[129.5,-31.6],[126.1,-32.2],[123.7,-33.9],[122.2,-34],[119.9,-34],[118.5,-34.7],[115.8,-34.4],[115,-34.2],[115.6,-33.6],[115.7,-32.9],[115.8,-31.6],[114.9,-29.5],[114.2,-26.3],[113.7,-26.6],[113.4,-25.6],[113.7,-24.4],[114.2,-22.5],[115.5,-21.5],[116.7,-20.7],[118.2,-20.4],[119.3,-20],[121.4,-19.2],[122.2,-18.2],[122.3,-17.3],[123.4,-17.3],[124,-16.3],[124.9,-16],[125.7,-14.5],[127.1,-13.8],[128.4,-14.9],[129.6,-15],[130.6,-12.5],[132.6,-12.1],[131.8,-11.3],[133.6,-11.8],[135.3,-12.2],[136.5,-11.9],[136.9,-12.4],[136,-13.3],[135.5,-15],[137.1,-16],[139.1,-17.4],[140.2,-17.7],[140.9,-17.4],[141.3,-16.4],[141.7,-15],[141.5,-13.7],[141.6,-12.9],[142,-11.3],[142.5,-10.7]];
const tasmania = [[145.4,-40.8],[146.4,-41.1],[148.3,-40.9],[148.4,-42],[147.9,-43.2],[146.9,-43.6],[145.4,-42.7],[145.3,-40.8],[145.4,-40.8]];
const newZealand = [
[[172.7,-34.4],[174.3,-35.3],[175.4,-36.5],[175.9,-37.6],[177.4,-38],[178.5,-37.7],[177.9,-39.3],[176.9,-40],[175.2,-41.7],[174.7,-41.3],[175.1,-40],[173.8,-39.3],[174.6,-38.8],[174.7,-37.4],[173,-35.2],[172.7,-34.4]],
[[172.8,-40.5],[173,-41.3],[174.2,-41.3],[174.2,-41.8],[172.7,-43.4],[173,-43.9],[171.2,-44.9],[170.6,-46],[169.3,-46.6],[167.5,-46.2],[166.7,-46],[167.5,-44.8],[168.3,-44.1],[170.5,-43],[171.5,-41.8],[172.1,-40.95],[172.8,-40.5]]
];
const southIslands = [[[68.8,-49],[70.5,-49.1],[69.5,-49.7],[68.8,-49]]];
const antarctica = [[-180,-84.71],[-179.06,-84.14],[-177.26,-84.45],[-176.08,-84.1],[-174.38,-84.53],[-173.12,-84.12],[-169.95,-83.88],[-168.53,-84.24],[-167.02,-84.57],[-164.18,-84.83],[-161.93,-85.14],[-158.07,-85.37],[-155.19,-85.1],[-150.94,-85.3],[-148.53,-85.61],[-145.89,-85.32],[-143.11,-85.04],[-142.89,-84.57],[-146.83,-84.53],[-150.06,-84.3],[-150.9,-83.9],[-153.59,-83.69],[-153.41,-83.24],[-152.67,-82.45],[-152.86,-82.04],[-154.53,-81.77],[-155.29,-81.42],[-156.84,-81.1],[-154.41,-81.16],[-152.1,-81],[-150.65,-81.34],[-148.87,-81.04],[-147.22,-80.67],[-146.42,-80.34],[-146.77,-79.93],[-148.06,-79.65],[-149.53,-79.36],[-151.59,-79.3],[-153.39,-79.16],[-155.33,-79.06],[-155.98,-78.69],[-157.27,-78.38],[-158.05,-78.03],[-158.37,-76.89],[-157.88,-76.99],[-156.97,-77.3],[-155.33,-77.2],[-153.74,-77.07],[-152.92,-77.5],[-151.33,-77.4],[-150,-77.18],[-148.75,-76.91],[-147.61,-76.58],[-146.1,-76.48],[-146.5,-75.73],[-144.91,-75.2],[-144.32,-75.54],[-142.79,-75.34],[-141.64,-75.09],[-140.21,-75.07],[-138.86,-74.97],[-137.51,-74.73],[-136.43,-74.52],[-135.21,-74.3],[-134.43,-74.36],[-133.75,-74.44],[-132.26,-74.3],[-130.93,-74.48],[-129.55,-74.46],[-128.24,-74.32],[-125.4,-74.52],[-124.01,-74.48],[-121.07,-74.52],[-119.7,-74.48],[-118.68,-74.19],[-117.47,-74.03],[-116.22,-74.24],[-115.02,-74.07],[-113.94,-73.71],[-113.3,-74.03],[-112.95,-74.38],[-112.3,-74.71],[-111.26,-74.42],[-110.07,-74.79],[-108.71,-74.91],[-107.56,-75.18],[-106.15,-75.13],[-104.88,-74.95],[-103.37,-74.99],[-102.02,-75.13],[-100.65,-75.3],[-100.12,-74.87],[-100.76,-74.54],[-101.25,-74.19],[-102.55,-74.11],[-103.11,-73.73],[-103.33,-72.99],[-101.61,-72.81],[-100.31,-72.75],[-99.14,-72.91],[-98.12,-73.2],[-97.69,-73.56],[-96.34,-73.62],[-95.04,-73.48],[-93.67,-73.28],[-92.44,-73.17],[-91.42,-73.4],[-90.09,-73.32],[-89.23,-72.56],[-88.42,-73.01],[-87.27,-73.19],[-86.01,-73.09],[-85.19,-73.48],[-83.88,-73.52],[-82.67,-73.64],[-81.47,-73.85],[-80.69,-73.48],[-80.3,-73.13],[-79.3,-73.52],[-77.93,-73.42],[-76.91,-73.64],[-76.22,-73.97],[-74.89,-73.87],[-73.85,-73.66],[-72.83,-73.4],[-71.62,-73.26],[-70.21,-73.15],[-68.94,-73.01],[-67.96,-72.79],[-67.37,-72.48],[-67.13,-72.05],[-67.25,-71.64],[-67.56,-71.25],[-67.92,-70.85],[-68.23,-70.46],[-68.49,-70.11],[-68.54,-69.72],[-68.45,-69.33],[-67.98,-68.95],[-67.58,-68.54],[-67.43,-68.15],[-67.62,-67.72],[-67.74,-67.33],[-67.25,-66.88],[-66.7,-66.58],[-65.37,-65.9],[-64.57,-65.6],[-64.18,-65.17],[-63.63,-64.9],[-62.65,-64.47],[-61.41,-64.27],[-59.5,-63.7],[-57.16,-63.23],[-57.6,-63.86],[-58.61,-64.15],[-59.05,-64.37],[-59.79,-64.21],[-60.61,-64.31],[-61.3,-64.54],[-62.02,-64.8],[-62.51,-65.09],[-62.65,-65.48],[-62.59,-65.86],[-62.12,-66.19],[-62.81,-66.43],[-63.75,-66.5],[-64.29,-66.84],[-64.88,-67.15],[-65.51,-67.58],[-65.67,-67.95],[-65.31,-68.37],[-64.78,-68.68],[-63.96,-68.91],[-63.2,-69.23],[-62.79,-69.62],[-62.57,-69.99],[-62.28,-70.38],[-61.81,-70.72],[-61.51,-71.09],[-61.38,-72.01],[-61.08,-72.38],[-61,-72.77],[-60.69,-73.17],[-60.83,-73.7],[-61.38,-74.11],[-61.96,-74.44],[-63.3,-74.58],[-63.75,-74.93],[-64.35,-75.26],[-65.86,-75.64],[-67.19,-75.79],[-68.45,-76.01],[-69.8,-76.22],[-70.6,-76.63],[-72.21,-76.67],[-73.97,-76.64],[-75.56,-76.71],[-77.24,-76.71],[-76.93,-77.1],[-75.4,-77.28],[-74.28,-77.56],[-73.66,-77.91],[-74.77,-78.22],[-76.5,-78.12],[-77.93,-78.38],[-78.02,-79.18],[-76.85,-79.51],[-76.63,-79.89],[-75.36,-80.26],[-73.24,-80.42],[-71.44,-80.69],[-70.01,-81],[-68.19,-81.32],[-65.7,-81.47],[-63.26,-81.75],[-61.55,-82.04],[-59.69,-82.38],[-58.71,-82.85],[-58.22,-83.22],[-57.01,-82.87],[-55.36,-82.57],[-53.62,-82.26],[-51.54,-82],[-49.76,-81.73],[-47.27,-81.71],[-44.83,-81.85],[-42.81,-82.08],[-42.16,-81.65],[-40.77,-81.36],[-38.24,-81.34],[-36.27,-81.12],[-34.39,-80.91],[-32.31,-80.77],[-30.1,-80.59],[-28.55,-80.34],[-29.26,-79.99],[-29.69,-79.63],[-29.69,-79.26],[-31.62,-79.3],[-33.68,-79.46],[-35.64,-79.46],[-35.91,-79.08],[-35.78,-78.34],[-35.33,-78.12],[-33.9,-77.89],[-32.21,-77.65],[-31.01,-77.36],[-29.78,-77.07],[-28.88,-76.67],[-27.51,-76.5],[-26.16,-76.36],[-25.47,-76.28],[-23.93,-76.24],[-22.46,-76.11],[-21.22,-75.91],[-20.01,-75.67],[-18.91,-75.44],[-17.52,-75.13],[-16.64,-74.79],[-15.7,-74.5],[-15.41,-74.11],[-16.47,-73.87],[-16.11,-73.46],[-15.45,-73.15],[-14.41,-72.95],[-13.31,-72.72],[-12.29,-72.4],[-11.51,-72.01],[-11.02,-71.54],[-10.3,-71.27],[-9.1,-71.32],[-8.61,-71.66],[-7.42,-71.7],[-7.38,-71.32],[-6.87,-70.93],[-5.79,-71.03],[-5.54,-71.4],[-4.34,-71.46],[-3.05,-71.29],[-1.8,-71.17],[-0.66,-71.23],[-0.23,-71.64],[0.87,-71.3],[1.89,-71.13],[4.14,-70.85],[5.16,-70.62],[6.27,-70.46],[7.14,-70.25],[7.74,-69.89],[8.49,-70.15],[9.53,-70.01],[10.25,-70.48],[10.82,-70.83],[11.95,-70.64],[12.4,-70.25],[13.42,-69.97],[14.73,-70.03],[15.13,-70.4],[15.95,-70.03],[17.03,-69.91],[18.2,-69.87],[19.26,-69.89],[20.38,-70.01],[21.45,-70.07],[21.92,-70.4],[22.57,-70.7],[23.67,-70.52],[24.84,-70.48],[25.98,-70.62],[27.09,-70.46],[28.09,-70.32],[29.15,-70.21],[30.03,-69.93],[30.97,-69.76],[31.99,-69.66],[32.75,-69.38],[33.3,-68.84],[33.87,-68.5],[34.91,-68.66],[35.3,-69.01],[36.16,-69.25],[37.2,-69.17],[37.91,-69.52],[38.65,-69.78],[39.67,-69.54],[40.02,-69.11],[40.92,-68.93],[41.96,-68.6],[42.94,-68.46],[44.11,-68.27],[44.9,-68.05],[45.72,-67.82],[46.5,-67.6],[47.44,-67.72],[48.34,-67.37],[48.99,-67.09],[49.93,-67.11],[50.75,-66.88],[50.95,-66.52],[51.79,-66.25],[52.61,-66.05],[53.61,-65.9],[54.53,-65.82],[55.41,-65.88],[56.36,-65.97],[57.16,-66.25],[57.26,-66.68],[58.14,-67.01],[58.74,-67.29],[59.94,-67.41],[60.61,-67.68],[61.43,-67.95],[62.39,-68.01],[63.19,-67.82],[64.05,-67.41],[64.99,-67.62],[65.97,-67.74],[66.91,-67.86],[67.89,-67.93],[68.89,-67.93],[69.71,-68.97],[69.67,-69.23],[69.56,-69.68],[68.6,-69.93],[67.81,-70.31],[67.95,-70.7],[69.07,-70.68],[68.93,-71.07],[68.42,-71.44],[67.95,-71.85],[68.71,-72.17],[69.87,-72.26],[71.02,-72.09],[71.57,-71.7],[71.91,-71.33],[72.45,-71.01],[73.08,-70.72],[73.34,-70.36],[73.86,-69.87],[74.49,-69.78],[75.63,-69.74],[76.63,-69.62],[77.64,-69.46],[78.13,-69.07],[78.43,-68.7],[79.11,-68.33],[80.09,-68.07],[80.94,-67.88],[81.48,-67.54],[82.05,-67.37],[82.78,-67.21],[83.77,-67.31],[85.41,-66.96],[86.75,-66.96],[87.99,-66.21],[88.36,-66.48],[88.83,-66.95],[89.67,-67.15],[90.63,-67.23],[91.59,-67.11],[92.61,-67.19],[93.55,-67.21],[94.18,-67.11],[95.02,-67.17],[95.78,-67.39],[96.68,-67.25],[97.76,-67.25],[98.68,-67.11],[99.72,-67.25],[100.38,-66.92],[100.89,-66.58],[101.58,-66.31],[102.83,-65.56],[103.48,-65.7],[104.24,-66],[104.91,-66.33],[106.18,-66.93],[107.16,-66.95],[108.08,-66.95],[109.16,-66.84],[110.24,-66.7],[110.79,-66.58],[111.06,-66.43],[111.74,-66.13],[112.86,-66.09],[113.6,-65.88],[114.39,-66.07],[114.9,-66.39],[115.6,-66.7],[116.7,-66.66],[117.38,-66.92],[118.58,-67.17],[119.83,-67.27],[120.87,-67.19],[121.65,-66.88],[122.32,-66.56],[123.22,-66.48],[124.12,-66.62],[125.16,-66.72],[126.1,-66.56],[127,-66.56],[127.88,-66.66],[128.8,-66.76],[129.7,-66.58],[130.78,-66.43],[131.8,-66.39],[132.94,-66.39],[133.86,-66.29],[134.76,-66.21],[135.03,-65.72],[135.07,-65.31],[135.7,-65.58],[135.87,-66.03],[136.21,-66.44],[136.62,-66.78],[137.46,-66.96],[138.6,-66.9],[139.91,-66.88],[140.81,-66.82],[142.12,-66.82],[143.06,-66.8],[144.37,-66.84],[145.49,-66.91],[146.2,-67.23],[146,-67.6],[146.65,-67.9],[147.72,-68.13],[148.84,-68.39],[150.13,-68.56],[151.48,-68.72],[152.5,-68.87],[153.64,-68.89],[154.28,-68.56],[155.17,-68.84],[155.93,-69.15],[156.81,-69.38],[158.03,-69.48],[159.18,-69.6],[159.67,-69.99],[160.81,-70.23],[161.57,-70.58],[162.69,-70.74],[163.84,-70.72],[164.92,-70.78],[166.11,-70.76],[167.31,-70.83],[168.43,-70.97],[169.46,-71.21],[170.5,-71.4],[171.21,-71.7],[171.09,-72.09],[170.56,-72.44],[169.76,-73.24],[169.29,-73.66],[167.97,-73.81],[167.39,-74.17],[166.09,-74.38],[165.64,-74.77],[164.96,-75.15],[164.23,-75.46],[163.82,-75.87],[163.57,-76.24],[163.47,-76.69],[163.49,-77.07],[164.06,-77.46],[164.27,-77.83],[164.74,-78.18],[166.6,-78.32],[166.99,-78.75],[165.19,-78.91],[163.67,-79.12],[161.77,-79.16],[160.92,-79.73],[160.75,-80.2],[160.32,-80.57],[159.79,-80.95],[161.12,-81.28],[161.63,-81.69],[162.49,-81.99],[163.7,-82.4],[165.1,-82.71],[166.6,-83.02],[168.9,-83.34],[169.4,-83.83],[172.28,-84.04],[173.22,-84.41],[175.99,-84.16],[178.28,-84.47],[180,-84.71]];
const coastlines = [americas,greenland,...arcticCanada,...caribbean,...hawaii,tierra,falklands,eurasia,chukotkaWest,asia,caspian,africa,madagascar,...europeIslands,...eastAsiaIslands,...indonesiaIslands,australia,tasmania,...newZealand,...southIslands,antarctica];

// ---------- Robinson projection tables ----------
const robPlen = [1,.9986,.9954,.99,.9822,.973,.96,.9427,.9216,.8962,.8679,.835,.7986,.7597,.7186,.6732,.6213,.5722,.5322];
const robPdfe = [0,.062,.124,.186,.248,.31,.372,.434,.4958,.5571,.6176,.6769,.7346,.7903,.8435,.8936,.9394,.9761,1];
function crInterp(tab,deg){
  const t=Math.min(deg/5,17.9999),i=Math.floor(t),f=t-i;
  const p1=tab[i],p2=tab[i+1],p0=i>0?tab[i-1]:2*p1-p2,p3=i<17?tab[i+2]:2*p2-p1;
  return p1+.5*f*(p2-p0+f*(2*p0-5*p1+4*p2-p3+f*(3*(p1-p2)+p3-p0)));
}
function robinsonRaw(l,p){
  const deg=Math.abs(p)*180/Math.PI;
  return [0.8487*crInterp(robPlen,deg)*l, 1.3523*crInterp(robPdfe,deg)*(p<0?-1:1)];
}
const projection = d3.geoProjection(robinsonRaw).scale(168.78).translate([500,288]).precision(0.2);
const geoPath = d3.geoPath(projection);
const svg = d3.select("#c");

// ---------- cells ----------
const color = d3.scaleThreshold().domain(binEdges.slice(1,-1)).range(binColors);
const cells = [];
bandSouth.forEach((s,i)=>bandRuns[i].forEach(([w,e,v])=>{
  for(let lon=w;lon<e;lon+=5) cells.push({s,lon,v});
}));
const corner=(lon,lat)=>projection([lon,lat]);
svg.append("g").attr("shape-rendering","crispEdges").selectAll("path").data(cells).join("path")
  .attr("d",c=>{
    const a=corner(c.lon,c.s+5),b=corner(c.lon+5,c.s+5),d=corner(c.lon+5,c.s),f=corner(c.lon,c.s);
    return "M"+[a,b,d,f].map(p=>p.join(",")).join("L")+"Z";
  })
  .attr("fill",c=>color(c.v)).attr("stroke",c=>color(c.v)).attr("stroke-width",0.4);

// ---------- graticule ----------
const lonLines=[-120,-60,0,60,120], latLines=[-60,-30,0,30,60];
const gridG=svg.append("g").attr("fill","none").attr("stroke","#b0b0b0").attr("stroke-width",1);
lonLines.forEach(l=>gridG.append("path").attr("d",geoPath({type:"LineString",coordinates:d3.range(-90,90.1,5).map(p=>[l,p])})));
latLines.forEach(p=>{
  const a=projection([-180,p]),b=projection([180,p]);
  gridG.append("line").attr("x1",a[0]).attr("x2",b[0]).attr("y1",a[1]).attr("y2",b[1]);
});

// ---------- coast & outline ----------
svg.append("g").attr("fill","none").attr("stroke","#000").attr("stroke-width",1.3).attr("stroke-linejoin","round")
  .selectAll("path").data(coastlines).join("path")
  .attr("d",c=>geoPath({type:"LineString",coordinates:c}));
svg.append("path").attr("d",geoPath({type:"Sphere"})).attr("fill","none").attr("stroke","#000").attr("stroke-width",1);

// ---------- titles ----------
svg.append("text").attr("x",500).attr("y",30).attr("text-anchor","middle").attr("font-size",22.2).text(titleText);
svg.append("text").attr("x",90).attr("y",47).attr("font-size",22).text(panelLabel);

// ---------- colour bar ----------
const barX=d3.scaleLinear().domain([binEdges[0],binEdges[8]]).range([50,950]);
const barY=534.5, barH=18;
svg.append("g").attr("shape-rendering","crispEdges").selectAll("rect").data(binColors).join("rect")
  .attr("x",(d,i)=>barX(binEdges[i])).attr("width",(d,i)=>barX(binEdges[i+1])-barX(binEdges[i]))
  .attr("y",barY).attr("height",barH).attr("fill",d=>d);
svg.append("rect").attr("x",50).attr("y",barY).attr("width",900).attr("height",barH).attr("fill","none").attr("stroke","#000").attr("stroke-width",1);
const axis=d3.axisBottom(barX).tickValues(binEdges).tickFormat(d3.format(".3f")).tickSize(4).tickPadding(5);
const ag=svg.append("g").attr("transform",`translate(0,${barY+barH})`).call(axis);
ag.select(".domain").remove();
ag.selectAll("text").attr("font-size",16).attr("font-family",'"DejaVu Sans",sans-serif').attr("fill","#000");
ag.selectAll("line").attr("stroke","#000");
const lab=svg.append("text").attr("x",500.5).attr("y",593).attr("text-anchor","middle").attr("font-size",19.6);
lab.append("tspan").text("Air Temperature (");
lab.append("tspan").attr("dy",-7).attr("font-size",14).attr("font-style","italic").text("o");
lab.append("tspan").attr("dy",7).text("C)");
</script></body></html>
